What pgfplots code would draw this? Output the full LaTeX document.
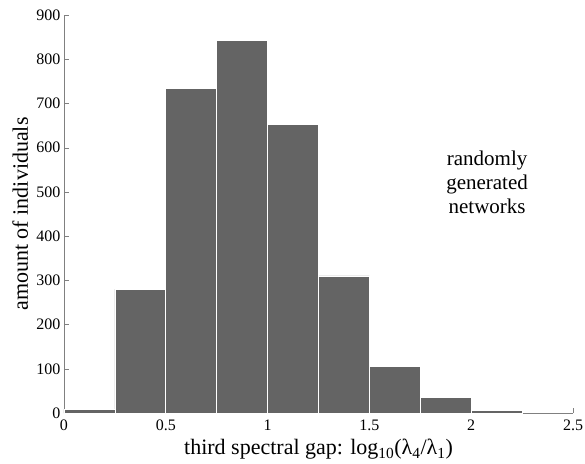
\documentclass[border=0pt]{standalone}
\usepackage{fontspec}
\setmainfont{Liberation Serif}
\usepackage{pgfplots}
\pgfplotsset{compat=1.18}
\definecolor{barc}{HTML}{646464}
\definecolor{axc}{HTML}{808080}
\begin{document}
\begin{tikzpicture}
\begin{axis}[
  scale only axis, width=509pt, height=398pt,
  xmin=0, xmax=2.5, ymin=0, ymax=900,
  axis x line*=bottom, axis y line*=left,
  axis line style={axc},
  xtick={0,0.5,1,1.5,2,2.5}, ytick={0,100,...,900},
  xticklabels={0,0.5,1,1.5,2,2.5},
  tick style={axc}, tick align=inside, major tick length=4.5pt,
  /pgf/number format/assume math mode=true,
  tick label style={font=\fontsize{16}{18}\selectfont},
  xticklabel style={yshift=-3pt},
  xlabel={third spectral gap: log\textsubscript{10}(λ\textsubscript{4}/λ\textsubscript{1})},
  ylabel={amount of individuals},
  xlabel style={font=\fontsize{22}{24}\selectfont, at={(axis description cs:0.5,-0.1055)}, anchor=base},
  ylabel style={font=\fontsize{22}{24}\selectfont, at={(axis description cs:-0.071,0.5)}, anchor=base},
  clip=false,
]
\addplot[ybar interval, fill=barc, draw=white, line width=0.8pt] coordinates {
(0,9) (0.25,280) (0.5,733) (0.75,843) (1,653) (1.25,310) (1.5,106) (1.75,36) (2,5) (2.25,5)};
\node[align=center, font=\fontsize{21}{24}\selectfont] at (axis cs:2.078,522) {randomly\\generated\\networks};
\end{axis}
\pgfresetboundingbox
\path ([shift={(-64pt,-51pt)}]current axis.south west) rectangle ([shift={(12pt,15pt)}]current axis.north east);
\end{tikzpicture}
\end{document}
